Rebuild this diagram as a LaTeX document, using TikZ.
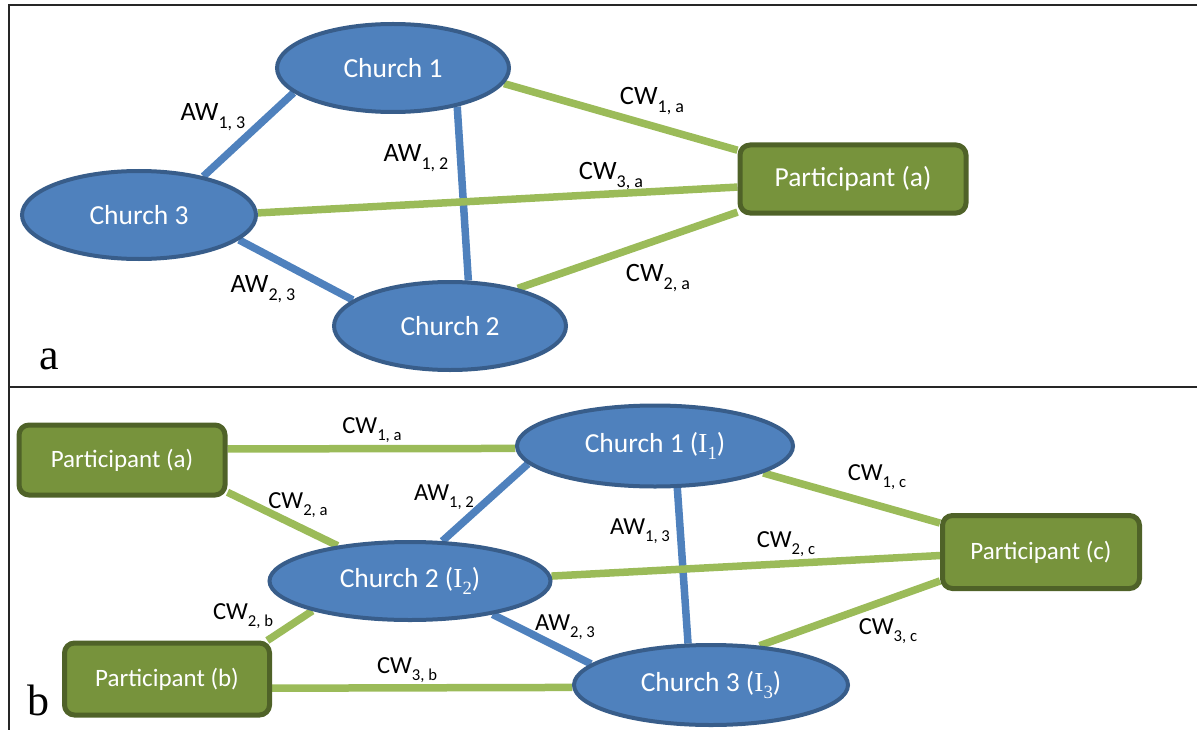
\documentclass[tikz,border=0pt]{standalone}
\usepackage{fontspec}
\setmainfont{Carlito}
\newfontfamily\serifI{Liberation Serif}
\usepackage{graphicx}
\usetikzlibrary{shapes.geometric,backgrounds}
\definecolor{chfill}{HTML}{4F81BD}
\definecolor{chdraw}{HTML}{385D8A}
\definecolor{pfill}{HTML}{77933C}
\definecolor{pdraw}{HTML}{4F6228}
\definecolor{gline}{HTML}{9BBB59}
\definecolor{bline}{HTML}{4F81BD}
\newcommand\sbs[1]{\raisebox{-0.28em}{\scalebox{0.68}{#1}}}
\begin{document}
\begin{tikzpicture}[x=1pt,y=-1pt,
  church/.style={ellipse, fill=chfill, draw=chdraw, line width=4pt, text=white, inner sep=0pt},
  part/.style={rectangle, rounded corners=10pt, fill=pfill, draw=pdraw, line width=5pt, text=white, inner sep=0pt},
  fa/.style={font=\fontsize{27.5}{32}\selectfont},
  fb/.style={font=\fontsize{25}{30}\selectfont},
  fc/.style={font=\fontsize{27.5}{32}\selectfont},
  la/.style={inner sep=0pt, text=black, font=\fontsize{26.5}{30}\selectfont},
  lb/.style={inner sep=0pt, text=black, font=\fontsize{24.5}{28}\selectfont},
  gedge/.style={draw=gline, line width=7.5pt},
  bedge/.style={draw=bline, line width=7.5pt},
  panel/.style={font=\serifI\fontsize{44}{50}\selectfont, inner sep=0pt, anchor=base west},
  frame/.style={line width=1.5pt, draw=black!85}
]
\useasboundingbox (0,0) rectangle (1198,730);
% frame
\coordinate (tl) at (9,5);
\coordinate (tr) at (1197,5);
\coordinate (bl) at (9,730);
\coordinate (ml) at (9,387);
\coordinate (mr) at (1197,387);
\draw[frame] (tr) -- (tl) -- (bl);
\draw[frame] (ml) -- (mr);

% panel a nodes
\node[church, fa, minimum width=232pt, minimum height=88pt] (a1) at (393,68) {Church 1};
\node[church, fa, minimum width=234pt, minimum height=88pt] (a3) at (139,215) {Church 3};
\node[church, fa, minimum width=232pt, minimum height=88pt] (a2) at (450,326) {Church 2};
\node[part, fa, minimum width=226pt, minimum height=68pt] (apa) at (853,179) {Participant (a)};

% panel b nodes
\node[church, fc, minimum width=276pt, minimum height=81pt] (b1) at (655,446) {Church 1 ({\serifI I\sbs{1}})};
\node[church, fc, minimum width=281pt, minimum height=78pt] (b2) at (410,581) {Church 2 ({\serifI I\sbs{2}})};
\node[church, fc, minimum width=274pt, minimum height=80pt] (b3) at (711,685) {Church 3 ({\serifI I\sbs{3}})};
\node[part, fb, minimum width=206pt, minimum height=70pt] (bpa) at (122,460) {Participant (a)};
\node[part, fb, minimum width=205pt, minimum height=72pt] (bpb) at (167,679) {Participant (b)};
\node[part, fb, minimum width=197pt, minimum height=73pt] (bpc) at (1041,552) {Participant (c)};

\begin{scope}[on background layer]
% panel a edges
\path[bedge] (a3.31) -- (a1.194);
\path[bedge] (a1.-31) -- (a2.68);
\path[bedge] (a3.-14) -- (a2.165);
\path[gedge] (a3.1) -- (apa.184);
\path[gedge] (a1.-8) -- (apa.166);
\path[gedge] (a2.29) -- (apa.196);
% panel b edges
\path[gedge] (bpa.6.5) -- (b1.181);
\path[gedge] (bpa.-17) -- (b2.154);
\path[bedge] (b2.51) -- (b1.188);
\path[gedge] (b2.197) -- (bpb.21);
\path[gedge] (bpb.-5) -- (b3.181);
\path[bedge] (b2.-22) -- (b3.170);
\path[bedge] (b1.-62) -- (b3.119);
\path[gedge] (b1.-14) -- (bpc.164);
\path[gedge] (b2.2) -- (bpc.182);
\path[gedge] (b3.39) -- (bpc.196);
\end{scope}

% panel a labels
\node[la] (la13) at (213,117) {AW\sbs{1, 3}};
\node[la] (la12) at (416,158) {AW\sbs{1, 2}};
\node[la] (la23) at (263,289) {AW\sbs{2, 3}};
\node[la] (lc1a) at (652,101) {CW\sbs{1, a}};
\node[la] (lc3a) at (611,176) {CW\sbs{3, a}};
\node[la] (lc2a) at (658,278) {CW\sbs{2, a}};
\node[panel] (pa) at (39,369) {a};

% panel b labels
\node[lb] (lb1a) at (372,430) {CW\sbs{1, a}};
\node[lb] (lb2a) at (298,505) {CW\sbs{2, a}};
\node[lb] (lb12) at (444,497) {AW\sbs{1, 2}};
\node[lb] (lb2b) at (243,616) {CW\sbs{2, b}};
\node[lb] (lb23) at (565,627) {AW\sbs{2, 3}};
\node[lb] (lb3b) at (407,670) {CW\sbs{3, b}};
\node[lb] (lb13) at (640,531) {AW\sbs{1, 3}};
\node[lb] (lb2c) at (786,544) {CW\sbs{2, c}};
\node[lb] (lb1c) at (877,477) {CW\sbs{1, c}};
\node[lb] (lb3c) at (888,631) {CW\sbs{3, c}};
\node[panel] (pb) at (27,715) {b};
\end{tikzpicture}
\end{document}
